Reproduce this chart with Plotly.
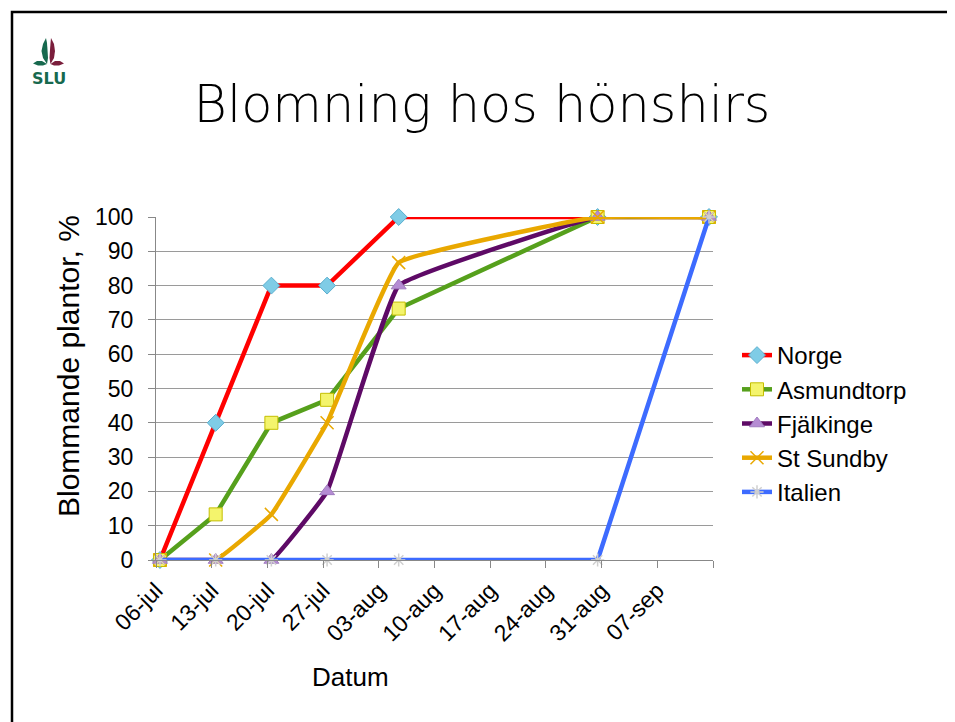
import plotly.graph_objects as go
import pandas as pd

# ---- data ----
dates = ["2010-07-06", "2010-07-13", "2010-07-20", "2010-07-27",
         "2010-08-05", "2010-08-30", "2010-09-13"]
norge = [0, 40, 80, 80, 100, 100, 100]
asmundtorp = [0, 13.3, 40, 46.7, 73.3, 100, 100]
fjalkinge = [0, 0, 0, 20, 80, 100, 100]
st_sundby = [0, 0, 13.3, 40, 86.7, 100, 100]
italien = [0, 0, 0, 0, 0, 0, 100]

tick_dates = ["2010-07-06", "2010-07-13", "2010-07-20", "2010-07-27", "2010-08-03",
              "2010-08-10", "2010-08-17", "2010-08-24", "2010-08-31", "2010-09-07",
              "2010-09-14"]
tick_labels = ["06-jul", "13-jul", "20-jul", "27-jul", "03-aug",
               "10-aug", "17-aug", "24-aug", "31-aug", "07-sep", ""]

# points sit in the middle of their day (date axis, between tick marks)
x = [pd.Timestamp(d) + pd.Timedelta(hours=12) for d in dates]

OFF = 8  # page body margin
W, H = 955 - OFF, 722 - OFF
# plot area in screen pixels: x 156..713, y 217..560
L = 156 - OFF
R = W - (713 - OFF)
T = 217 - OFF
B = H - (560 - OFF)
pw, ph = W - L - R, H - T - B


def px(xs):
    return (xs - OFF - L) / pw


def py(ys):
    return (H - B - (ys - OFF)) / ph


series = [
    ("Norge", norge, "#FF0000", dict(symbol="diamond", size=13, color="#7FCCE6",
                                     line=dict(color="#5AAFCF", width=1)), "linear", 0),
    ("Asmundtorp", asmundtorp, "#56A01C", dict(symbol="square", size=13, color="#F4F46C",
                                               line=dict(color="#C4BE00", width=1)), "linear", 0),
    ("Fjälkinge", fjalkinge, "#5E0A66", dict(symbol="triangle-up", size=13, color="#B58CD3",
                                             line=dict(color="#A07CC0", width=1)), "spline", 0.25),
    ("St Sundby", st_sundby, "#E9A800", dict(symbol="x-thin-open", size=13, color="#E9A800",
                                             line=dict(color="#E9A800", width=1.5)), "spline", 0.25),
    ("Italien", italien, "#3D6BFF", dict(symbol="asterisk-open", size=11, color="#CFCFCF",
                                         line=dict(color="#CFCFCF", width=1.5)), "linear", 0),
]

fig = go.Figure()
for name, vals, col, mk, shape, sm in series:
    line = dict(color=col, width=4.5, shape=shape)
    if shape == "spline":
        line["smoothing"] = sm
    fig.add_trace(go.Scatter(x=x, y=vals, name=name, mode="lines+markers",
                             line=line, marker=mk, cliponaxis=False))

fig.update_layout(
    width=W, height=H,
    margin=dict(l=L, r=R, t=T, b=B),
    paper_bgcolor="white", plot_bgcolor="white",
    font=dict(family="Liberation Sans, Arial, sans-serif", size=23, color="black"),
    showlegend=True,
    legend=dict(x=px(737), y=py(333), xanchor="left", yanchor="top",
                font=dict(size=24), tracegroupgap=0, itemwidth=30,
                bgcolor="rgba(0,0,0,0)"),
    title=dict(text="Blomning hos hönshirs", xref="container", yref="container",
               x=(482 - OFF) / W, xanchor="center",
               y=1 - (104 - OFF) / H, yanchor="middle",
               font=dict(family="DejaVu Sans, sans-serif", size=51, color="black",
                         weight=300)),
)

fig.update_xaxes(
    type="date",
    range=[pd.Timestamp("2010-07-06"), pd.Timestamp("2010-09-14")],
    tickmode="array", tickvals=tick_dates, ticktext=tick_labels,
    tickangle=-45, ticks="outside", ticklen=7, tickcolor="#888888",
    showline=True, linecolor="#888888", linewidth=1,
    showgrid=False, zeroline=False,
    tickfont=dict(size=23),
)
fig.update_yaxes(
    range=[0, 100], tickvals=list(range(0, 101, 10)),
    ticks="outside", ticklen=7, tickcolor="#888888", ticklabelstandoff=10,
    showline=True, linecolor="#888888", linewidth=1,
    showgrid=True, gridcolor="#9A9A9A", gridwidth=1, zeroline=False,
    tickfont=dict(size=23),
)

# axis titles (placed as in the original, off-centre)
fig.add_annotation(text="Datum", xref="paper", yref="paper", x=px(350), y=py(677),
                   showarrow=False, xanchor="center", yanchor="middle",
                   font=dict(size=26))
fig.add_annotation(text="Blommande plantor, %", xref="paper", yref="paper", x=px(68), y=py(366),
                   showarrow=False, xanchor="center", yanchor="middle", textangle=-90,
                   font=dict(size=30))

# slide frame
fig.add_shape(type="rect", xref="paper", yref="paper",
              x0=px(12), x1=px(952), y0=py(760), y1=py(12),
              line=dict(color="black", width=2.5), layer="below")


# SLU logo
def path(points):
    s = ""
    for i, (a, b) in enumerate(points):
        cmd = "M" if i == 0 else "L"
        s += f"{cmd}{px(a):.5f},{py(b):.5f} "
    return s + "Z"


green = "#17694E"
maroon = "#7A1E3C"
fig.add_shape(type="path", xref="paper", yref="paper", line=dict(width=0), fillcolor=green,
              path=path([(46, 38), (43, 44), (41.5, 51), (43, 58), (47, 64), (48, 58), (47.5, 50), (47, 43)]))
fig.add_shape(type="path", xref="paper", yref="paper", line=dict(width=0), fillcolor=maroon,
              path=path([(51, 38), (50.5, 43), (50, 50), (49.5, 58), (50.5, 64), (54, 58), (55, 51), (54, 44)]))
fig.add_shape(type="path", xref="paper", yref="paper", line=dict(width=0), fillcolor=green,
              path=path([(47, 64), (42, 61), (37, 61), (33, 63.5), (38, 65.5), (43, 65.5)]))
fig.add_shape(type="path", xref="paper", yref="paper", line=dict(width=0), fillcolor=maroon,
              path=path([(50.5, 64), (55, 61), (60, 61), (64, 63.5), (59, 65.5), (54, 65.5)]))
fig.add_annotation(text="SLU", xref="paper", yref="paper", x=px(49), y=py(78),
                   showarrow=False, xanchor="center", yanchor="middle",
                   font=dict(family="DejaVu Sans, sans-serif", size=16, color=green, weight=600))

fig.write_html("out.html")
